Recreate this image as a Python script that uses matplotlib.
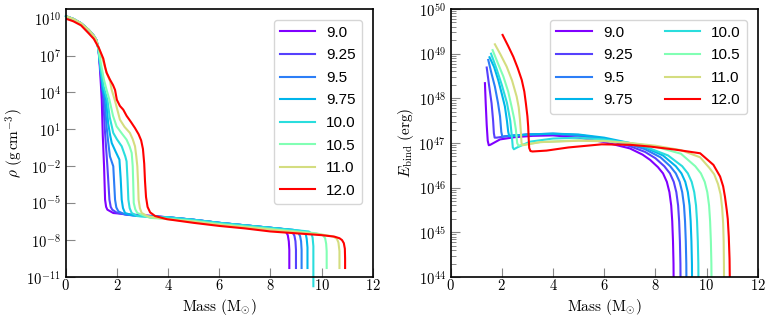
import numpy as np
import matplotlib
matplotlib.use("Agg")
import matplotlib.pyplot as plt
from matplotlib.ticker import FixedLocator, FuncFormatter, NullLocator, LogLocator

plt.rcParams['mathtext.fontset'] = 'cm'

masses = [9.0, 9.25, 9.5, 9.75, 10.0, 10.5, 11.0, 12.0]
labels = ['9.0', '9.25', '9.5', '9.75', '10.0', '10.5', '11.0', '12.0']

# density profiles: mass coordinate (Msun) and log10 rho (g cm^-3)
inner_m = [0.0, 0.3, 0.6, 0.9, 1.1, 1.2]
inner_rho = [10.2, 9.97, 9.62, 9.08, 8.6, 8.25]

rho_m_90 = inner_m + [1.28, 1.33, 1.38, 1.41, 1.45, 1.5, 1.54, 1.58, 1.63, 1.86, 2.5, 3.17, 4.0, 5.0, 6.0, 7.0, 8.0, 8.45, 8.6, 8.68, 8.72, 8.74, 8.74]
rho_90 = inner_rho + [7.6, 6.2, 4.5, 3.4, 0.5, -2.0, -4.72, -5.3, -5.53, -5.8, -5.92, -6.0, -6.15, -6.35, -6.6, -6.8, -7.0, -7.1, -7.3, -7.6, -8.1, -8.8, -10.27]

rho_m_925 = inner_m + [1.28, 1.34, 1.42, 1.47, 1.53, 1.58, 1.63, 1.71, 1.76, 1.82, 2.0, 2.38, 3.0, 4.0, 5.0, 6.0, 7.0, 8.0, 8.7, 8.86, 8.94, 8.98, 9.0, 9.0]
rho_925 = inner_rho + [7.6, 6.2, 4.4, 3.4, 1.0, -0.5, -2.0, -4.72, -5.3, -5.53, -5.78, -5.95, -6.02, -6.15, -6.35, -6.6, -6.8, -7.0, -7.15, -7.35, -7.65, -8.1, -8.8, -10.27]

rho_m_95 = inner_m + [1.28, 1.35, 1.44, 1.52, 1.6, 1.66, 1.73, 1.86, 1.93, 1.98, 2.06, 2.3, 2.64, 3.5, 4.0, 5.0, 6.0, 7.0, 8.0, 8.9, 9.08, 9.16, 9.2, 9.22, 9.22]
rho_95 = inner_rho + [7.6, 6.1, 4.3, 3.4, 1.2, 0.0, -1.2, -2.0, -4.72, -5.35, -5.67, -5.9, -6.0, -6.08, -6.15, -6.35, -6.6, -6.8, -7.0, -7.17, -7.37, -7.67, -8.1, -8.8, -10.27]

rho_m_975 = inner_m + [1.28, 1.36, 1.46, 1.58, 1.66, 1.73, 1.8, 1.95, 2.1, 2.15, 2.19, 2.24, 2.32, 2.6, 2.9, 4.0, 5.0, 6.0, 7.0, 8.0, 9.0, 9.3, 9.38, 9.42, 9.45, 9.45]
rho_975 = inner_rho + [7.55, 6.0, 4.2, 3.4, 1.5, 0.6, -0.11, -0.8, -1.46, -3.0, -4.72, -5.4, -5.8, -5.98, -6.05, -6.15, -6.35, -6.6, -6.8, -7.0, -7.2, -7.3, -7.5, -7.9, -8.6, -10.27]

rho_m_100 = inner_m + [1.28, 1.37, 1.48, 1.56, 1.63, 1.72, 1.86, 2.0, 2.19, 2.33, 2.38, 2.42, 2.45, 2.5, 2.58, 2.8, 3.1, 4.0, 5.0, 6.0, 7.0, 8.0, 9.0, 9.5, 9.6, 9.65, 9.68, 9.68]
rho_100 = inner_rho + [7.5, 5.9, 4.5, 3.9, 3.4, 2.0, 0.71, 0.2, -0.38, -1.2, -1.6, -3.2, -4.72, -5.4, -5.8, -6.05, -6.1, -6.15, -6.35, -6.6, -6.8, -7.0, -7.2, -7.3, -7.45, -7.8, -8.5, -11.75]

rho_m_105 = inner_m + [1.28, 1.38, 1.5, 1.6, 1.71, 1.85, 1.99, 2.2, 2.38, 2.5, 2.58, 2.62, 2.64, 2.66, 2.72, 2.8, 3.3, 4.0, 5.0, 6.0, 7.0, 8.0, 9.0, 9.8, 10.05, 10.14, 10.18, 10.2, 10.2]
rho_105 = inner_rho + [7.5, 6.3, 5.0, 4.2, 3.4, 2.1, 1.24, 0.65, 0.16, -0.4, -0.92, -2.0, -3.36, -4.98, -5.5, -5.8, -6.2, -6.28, -6.45, -6.7, -6.9, -7.1, -7.3, -7.45, -7.6, -7.85, -8.3, -8.9, -10.27]

rho_m_110 = inner_m + [1.3, 1.4, 1.5, 1.6, 1.73, 1.8, 1.93, 2.12, 2.3, 2.51, 2.62, 2.71, 2.76, 2.8, 2.83, 2.85, 2.9, 2.97, 3.2, 3.56, 4.0, 5.0, 6.0, 7.0, 8.0, 9.0, 10.0, 10.45, 10.6, 10.66, 10.7, 10.7]
rho_110 = inner_rho + [7.55, 7.0, 6.3, 5.6, 4.95, 4.2, 3.3, 1.79, 1.2, 0.71, 0.2, -0.38, -1.2, -2.0, -3.4, -4.72, -5.4, -5.8, -6.05, -6.2, -6.3, -6.5, -6.75, -6.95, -7.15, -7.35, -7.55, -7.7, -7.9, -8.2, -8.9, -10.27]

rho_m_120 = [0.0, 0.3, 0.6, 0.9, 1.1, 1.3, 1.4, 1.47, 1.55, 1.6, 1.73, 1.85, 1.93, 2.0, 2.12, 2.25, 2.38, 2.55, 2.71, 2.85, 2.95, 3.02, 3.07, 3.1, 3.14, 3.2, 3.3, 3.5, 3.95, 5.0, 6.0, 7.0, 8.0, 9.0, 10.0, 10.5, 10.7, 10.8, 10.87, 10.91, 10.92, 10.92]
rho_120 = [10.0, 9.78, 9.45, 8.8, 8.35, 7.6, 7.1, 6.75, 6.0, 5.6, 5.04, 4.6, 4.2, 3.4, 2.9, 2.6, 2.1, 1.6, 1.1, 0.6, 0.1, -0.6, -1.8, -3.2, -4.5, -5.3, -5.75, -6.05, -6.3, -6.6, -6.85, -7.05, -7.3, -7.45, -7.6, -7.72, -7.85, -8.0, -8.25, -8.7, -9.5, -10.27]

# binding energy: mass coordinate (Msun) and log10 E_bind (erg)
eb_m_90 = [1.34, 1.37, 1.41, 1.45, 1.49, 1.55, 1.93, 2.5, 3.2, 4.0, 5.0, 6.0, 7.0, 7.5, 7.8, 8.1, 8.3, 8.45, 8.55, 8.62, 8.66, 8.69, 8.71, 8.72]
eb_90 = [48.34, 47.9, 47.4, 47.05, 46.95, 46.96, 47.08, 47.13, 47.16, 47.17, 47.12, 47.02, 46.88, 46.74, 46.62, 46.46, 46.32, 46.13, 45.9, 45.6, 45.25, 44.8, 44.3, 43.5]

eb_m_925 = [1.41, 1.5, 1.6, 1.66, 1.69, 1.72, 1.8, 2.3, 3.0, 4.0, 5.0, 6.0, 7.0, 7.6, 8.0, 8.35, 8.57, 8.72, 8.82, 8.89, 8.93, 8.96, 8.98, 8.99]
eb_925 = [48.69, 48.3, 47.89, 47.5, 47.22, 47.12, 47.12, 47.16, 47.19, 47.2, 47.16, 47.08, 46.93, 46.8, 46.66, 46.48, 46.32, 46.13, 45.9, 45.6, 45.25, 44.8, 44.3, 43.5]

eb_m_95 = [1.47, 1.6, 1.73, 1.85, 1.93, 1.98, 2.02, 2.1, 3.0, 4.0, 5.0, 6.0, 7.0, 7.6, 8.2, 8.58, 8.8, 8.95, 9.05, 9.12, 9.16, 9.19, 9.21, 9.22]
eb_95 = [48.86, 48.55, 48.26, 47.9, 47.6, 47.25, 47.14, 47.15, 47.19, 47.21, 47.18, 47.1, 46.97, 46.86, 46.68, 46.48, 46.32, 46.13, 45.9, 45.6, 45.25, 44.8, 44.3, 43.5]

eb_m_975 = [1.52, 1.7, 1.86, 2.0, 2.12, 2.2, 2.25, 2.29, 2.4, 3.0, 4.0, 5.0, 6.0, 7.0, 7.6, 8.3, 8.8, 9.02, 9.17, 9.27, 9.34, 9.38, 9.41, 9.43, 9.44]
eb_975 = [48.92, 48.7, 48.41, 48.1, 47.82, 47.5, 47.25, 47.15, 47.16, 47.19, 47.21, 47.19, 47.12, 47.0, 46.9, 46.72, 46.48, 46.32, 46.13, 45.9, 45.6, 45.25, 44.8, 44.3, 43.5]

eb_m_100 = [1.58, 1.8, 2.0, 2.2, 2.33, 2.4, 2.43, 2.47, 2.6, 3.1, 4.0, 5.0, 6.0, 7.0, 7.6, 8.5, 9.05, 9.27, 9.42, 9.52, 9.59, 9.63, 9.66, 9.68, 9.69]
eb_100 = [49.0, 48.65, 48.3, 47.9, 47.5, 47.1, 46.9, 46.86, 46.9, 47.03, 47.1, 47.12, 47.08, 47.0, 46.92, 46.72, 46.48, 46.32, 46.13, 45.9, 45.6, 45.25, 44.8, 44.3, 43.5]

eb_m_105 = [1.64, 1.85, 2.06, 2.25, 2.38, 2.48, 2.55, 2.6, 2.65, 2.8, 3.5, 5.0, 6.0, 7.0, 8.0, 9.0, 9.56, 9.78, 9.93, 10.03, 10.1, 10.14, 10.17, 10.19, 10.2]
eb_105 = [49.08, 48.78, 48.49, 48.15, 47.82, 47.55, 47.3, 47.0, 46.94, 46.96, 47.02, 47.06, 47.05, 47.0, 46.92, 46.76, 46.48, 46.32, 46.13, 45.9, 45.6, 45.25, 44.8, 44.3, 43.5]

eb_m_110 = [1.73, 1.95, 2.19, 2.4, 2.58, 2.66, 2.71, 2.75, 2.77, 2.82, 3.5, 5.0, 6.0, 7.0, 8.0, 9.0, 9.75, 10.1, 10.3, 10.45, 10.55, 10.61, 10.65, 10.67, 10.68, 10.69]
eb_110 = [49.21, 48.98, 48.71, 48.4, 48.04, 47.8, 47.52, 47.2, 47.0, 46.95, 47.02, 47.05, 47.04, 47.0, 46.94, 46.84, 46.68, 46.45, 46.3, 46.08, 45.85, 45.55, 45.2, 44.8, 44.3, 43.5]

eb_m_120 = [2.03, 2.25, 2.45, 2.62, 2.78, 2.88, 2.94, 3.0, 3.03, 3.05, 3.07, 3.12, 3.2, 3.75, 4.6, 5.9, 7.0, 7.8, 8.8, 9.75, 10.27, 10.53, 10.65, 10.72, 10.79, 10.83, 10.87, 10.9, 10.92]
eb_120 = [49.42, 49.17, 48.93, 48.68, 48.41, 48.15, 47.89, 47.6, 47.37, 47.1, 46.89, 46.82, 46.81, 46.83, 46.9, 46.97, 46.96, 46.92, 46.85, 46.77, 46.51, 46.25, 46.03, 45.8, 45.5, 45.3, 44.9, 44.4, 43.5]

rho_curves = [(rho_m_90, rho_90), (rho_m_925, rho_925), (rho_m_95, rho_95), (rho_m_975, rho_975),
              (rho_m_100, rho_100), (rho_m_105, rho_105), (rho_m_110, rho_110), (rho_m_120, rho_120)]
eb_curves = [(eb_m_90, eb_90), (eb_m_925, eb_925), (eb_m_95, eb_95), (eb_m_975, eb_975),
             (eb_m_100, eb_100), (eb_m_105, eb_105), (eb_m_110, eb_110), (eb_m_120, eb_120)]

colors = [plt.cm.rainbow((m - 9.0) / 3.0) for m in masses]

fig = plt.figure(figsize=(7.69, 3.22), dpi=100)
ax1 = fig.add_axes([0.0854, 0.1398, 0.3993, 0.8322])
ax2 = fig.add_axes([0.586, 0.1398, 0.3993, 0.8322])

for (m, r), c, lab in zip(rho_curves, colors, labels):
    ax1.plot(m, 10.0 ** np.array(r), color=c, lw=1.5, label=lab, clip_on=(lab != '10.0'))
for (m, e), c, lab in zip(eb_curves, colors, labels):
    ax2.plot(m, 10.0 ** np.array(e), color=c, lw=1.5, label=lab)

mathint = FuncFormatter(lambda v, p: r'$%d$' % round(v))
mathexp = FuncFormatter(lambda v, p: r'$10^{%d}$' % round(np.log10(v)))

for ax in (ax1, ax2):
    ax.set_yscale('log')
    ax.set_xlim(0, 12)
    ax.set_xticks([0, 2, 4, 6, 8, 10, 12])
    ax.xaxis.set_major_formatter(mathint)
    ax.yaxis.set_major_formatter(mathexp)
    ax.tick_params(which='both', direction='in', color='#888888', labelsize=10.5, top=False, right=False)
    ax.tick_params(which='major', length=6.5, width=0.8)
    ax.tick_params(which='minor', length=3.4, width=0.7)
    ax.tick_params(axis='x', pad=1)
    for sp in ax.spines.values():
        sp.set_color('black')
        sp.set_linewidth(1.2)
    ax.set_xlabel(r'$\mathrm{Mass\ (M_{\odot})}$', fontsize=11, labelpad=3)
    ax.legend(prop={'family': 'Liberation Sans', 'size': 11}, handlelength=2.3, handletextpad=0.75,
              labelspacing=0.56, borderaxespad=0.7, loc='upper right',
              ncol=(1 if ax is ax1 else 2), columnspacing=2.1)

ax1.set_ylim(1e-11, 6e10)
ax1.yaxis.set_major_locator(FixedLocator([1e-11, 1e-8, 1e-5, 1e-2, 1e1, 1e4, 1e7, 1e10]))
ax1.yaxis.set_minor_locator(NullLocator())
ax1.set_ylabel(r'$\rho\ (\mathrm{g\,cm^{-3}})$', fontsize=11, labelpad=0)

ax2.set_ylim(1e44, 1e50)
ax2.yaxis.set_major_locator(LogLocator(base=10, numticks=10))
ax2.yaxis.set_minor_locator(LogLocator(base=10, subs=np.arange(2, 10), numticks=10))
ax2.yaxis.set_minor_formatter(FuncFormatter(lambda v, p: ''))
ax2.set_ylabel(r'$E_{\rm bind}\ (\mathrm{erg})$', fontsize=11, labelpad=2)

fig.savefig('out.png', dpi=100)
